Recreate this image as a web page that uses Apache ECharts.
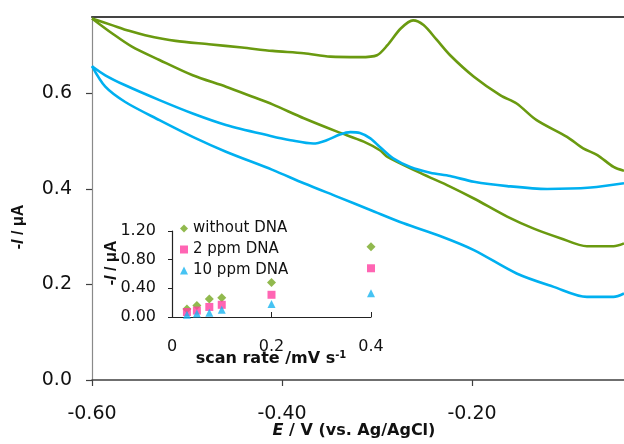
<!DOCTYPE html>
<html>
<head>
<meta charset="utf-8">
<script src="https://cdn.jsdelivr.net/npm/echarts@6/dist/echarts.min.js"></script>
<style>html,body{margin:0;padding:0;background:#fff}#c{width:624px;height:444px}</style>
</head>
<body>
<div id="c"></div>
<script>
// Main CV curves (potential in V, current in µA)
const greenUpperE = [-0.600,-0.579,-0.561,-0.544,-0.512,-0.477,-0.442,-0.410,-0.377,-0.349,-0.318,-0.300,-0.289,-0.275,-0.262,-0.251,-0.237,-0.223,-0.198,-0.170,-0.153,-0.132,-0.100,-0.083,-0.068,-0.051,-0.040];
const greenUpperI = [0.757,0.743,0.731,0.722,0.710,0.703,0.696,0.689,0.684,0.677,0.676,0.680,0.701,0.736,0.753,0.743,0.712,0.680,0.635,0.596,0.579,0.544,0.509,0.485,0.471,0.446,0.438];
const greenLowerE = [-0.600,-0.579,-0.558,-0.529,-0.494,-0.459,-0.431,-0.410,-0.377,-0.342,-0.314,-0.297,-0.289,-0.254,-0.223,-0.198,-0.163,-0.135,-0.107,-0.079,-0.051,-0.040];
const greenLowerI = [0.757,0.726,0.698,0.670,0.638,0.614,0.593,0.577,0.548,0.520,0.499,0.481,0.467,0.433,0.405,0.380,0.342,0.317,0.297,0.280,0.280,0.286];
const blueUpperE = [-0.600,-0.586,-0.565,-0.529,-0.494,-0.459,-0.412,-0.391,-0.367,-0.353,-0.339,-0.328,-0.318,-0.307,-0.297,-0.283,-0.265,-0.244,-0.223,-0.198,-0.163,-0.121,-0.075,-0.040];
const blueUpperI = [0.657,0.638,0.617,0.586,0.558,0.534,0.511,0.502,0.495,0.502,0.514,0.519,0.517,0.506,0.488,0.464,0.446,0.434,0.427,0.415,0.406,0.400,0.403,0.412];
const blueLowerE = [-0.600,-0.586,-0.565,-0.529,-0.494,-0.459,-0.410,-0.377,-0.342,-0.307,-0.272,-0.233,-0.198,-0.153,-0.114,-0.079,-0.051,-0.040];
const blueLowerI = [0.657,0.614,0.582,0.544,0.509,0.478,0.440,0.412,0.384,0.356,0.328,0.301,0.272,0.223,0.195,0.174,0.174,0.181];

// Inset: peak current vs scan rate
const scanRates = [0.03,0.05,0.075,0.1,0.2,0.4];
const withoutDNA = [0.11,0.16,0.25,0.27,0.48,0.98];
const ppm2DNA = [0.07,0.09,0.14,0.17,0.31,0.68];
const ppm10DNA = [0.03,0.05,0.06,0.10,0.18,0.33];
const insetNames = ['without DNA','2 ppm DNA','10 ppm DNA'];

const GREEN = '#6a9a10', BLUE = '#00b0f0';
const MK_GREEN = '#76a822', MK_PINK = '#ff3fa0', MK_BLUE = '#18b4f0';
const FF = '"DejaVu Sans", sans-serif';
const FA = '"Liberation Sans", Arial, sans-serif';
const zip = (a,b) => a.map((v,i)=>[v,b[i]]);

const chart = echarts.init(document.getElementById('c'), null, {renderer:'canvas'});
const lineS = (name, e, i, color) => ({
  name, type:'line', xAxisIndex:0, yAxisIndex:0, data: zip(e,i), showSymbol:false, symbol:'none',
  smooth:0.3, lineStyle:{color, width:2.6}, silent:true, z:2
});
const scatS = (name, y, color, symbol, size) => ({
  name, type:'scatter', xAxisIndex:2, yAxisIndex:1, data: zip(scanRates, y),
  symbol, symbolSize:size, itemStyle:{color}, silent:true, z:5
});

chart.setOption({
  animation:false,
  backgroundColor:'#fff',
  grid:[
    {left:92, top:17, right:0, bottom:64},
    {left:172, top:231, width:199, height:86}
  ],
  xAxis:[
    {type:'value', gridIndex:0, min:-0.6, max:-0.04, interval:0.2, position:'bottom',
     axisLine:{show:true, lineStyle:{color:'#404040', width:1.5}},
     axisTick:{show:true, length:6, lineStyle:{color:'#404040', width:1.2}},
     axisLabel:{margin:25, fontSize:19, fontFamily:FF, color:'#111', showMaxLabel:false, formatter:v=>v.toFixed(2)},
     splitLine:{show:false}},
    {type:'value', gridIndex:0, min:-0.6, max:-0.04, position:'top',
     axisLine:{show:true, onZero:false, lineStyle:{color:'#444', width:2.2}},
     axisTick:{show:false}, axisLabel:{show:false}, splitLine:{show:false}},
    {type:'value', gridIndex:1, min:0, max:0.4, interval:0.2,
     axisLine:{show:true, onZero:false, lineStyle:{color:'#222', width:1.2}},
     axisTick:{show:true, inside:true, length:5, lineStyle:{color:'#222'}},
     axisLabel:{margin:22, fontSize:16, fontFamily:FF, color:'#111', formatter:v=> v===0?'0':String(+v.toFixed(1))},
     splitLine:{show:false}}
  ],
  yAxis:[
    {type:'value', gridIndex:0, min:0, max:0.76, interval:0.2,
     axisLine:{show:true, lineStyle:{color:'#8a8a8a', width:1.2}},
     axisTick:{show:true, length:6, lineStyle:{color:'#404040', width:1.2}},
     axisLabel:{margin:20, fontSize:19, fontFamily:FF, color:'#111', showMaxLabel:false, formatter:v=>v.toFixed(1)},
     splitLine:{show:false}},
    {type:'value', gridIndex:1, min:0, max:1.2, interval:0.4,
     axisLine:{show:true, onZero:false, lineStyle:{color:'#222', width:1.2}},
     axisTick:{show:true, length:4, lineStyle:{color:'#222'}},
     axisLabel:{margin:16, fontSize:16, fontFamily:FF, color:'#111', formatter:v=>v.toFixed(2)},
     splitLine:{show:false}}
  ],
  legend:{
    orient:'vertical', left:180, top:221, padding:0, itemGap:6, itemWidth:8, itemHeight:8,
    textStyle:{fontSize:15, fontFamily:FF, color:'#111', lineHeight:15},
    data:[
      {name:insetNames[0], icon:'diamond', itemStyle:{color:MK_GREEN}},
      {name:insetNames[1], icon:'rect', itemStyle:{color:MK_PINK}},
      {name:insetNames[2], icon:'triangle', itemStyle:{color:MK_BLUE}}
    ],
    selectedMode:false
  },
  series:[
    lineS('g1', greenUpperE, greenUpperI, GREEN),
    lineS('g2', greenLowerE, greenLowerI, GREEN),
    lineS('b1', blueUpperE, blueUpperI, BLUE),
    lineS('b2', blueLowerE, blueLowerI, BLUE),
    scatS(insetNames[0], withoutDNA, MK_GREEN, 'diamond', 9),
    scatS(insetNames[1], ppm2DNA, MK_PINK, 'rect', 8),
    scatS(insetNames[2], ppm10DNA, MK_BLUE, 'triangle', 8)
  ],
  graphic:[
    {type:'text', x:354, y:431, z:10, style:{
      text:'{i|E} / V (vs. Ag/AgCl)', fontSize:16, fontWeight:'bold', fontFamily:FF, fill:'#111',
      align:'center', verticalAlign:'middle',
      rich:{i:{fontStyle:'italic', fontWeight:'bold', fontSize:16, fontFamily:FF, fill:'#111'}}}},
    {type:'text', x:19, y:227, rotation:Math.PI/2, z:10, style:{
      text:'-{i|I} / μA', fontSize:16, fontWeight:'bold', fontFamily:FA, fill:'#111',
      align:'center', verticalAlign:'middle',
      rich:{i:{fontStyle:'italic', fontWeight:'bold', fontSize:16, fontFamily:FA, fill:'#111'}}}},
    {type:'text', x:112, y:263, rotation:Math.PI/2, z:10, style:{
      text:'-{i|I} / μA', fontSize:16, fontWeight:'bold', fontFamily:FA, fill:'#111',
      align:'center', verticalAlign:'middle',
      rich:{i:{fontStyle:'italic', fontWeight:'bold', fontSize:16, fontFamily:FA, fill:'#111'}}}},
    {type:'text', x:271, y:359, z:10, style:{
      text:'scan rate /mV s{sup|-1}', fontSize:16, fontWeight:'bold', fontFamily:FF, fill:'#111',
      align:'center', verticalAlign:'middle',
      rich:{sup:{fontSize:10, fontWeight:'bold', fontFamily:FF, fill:'#111', padding:[0,0,8,0]}}}}
  ]
});
</script>
</body>
</html>
